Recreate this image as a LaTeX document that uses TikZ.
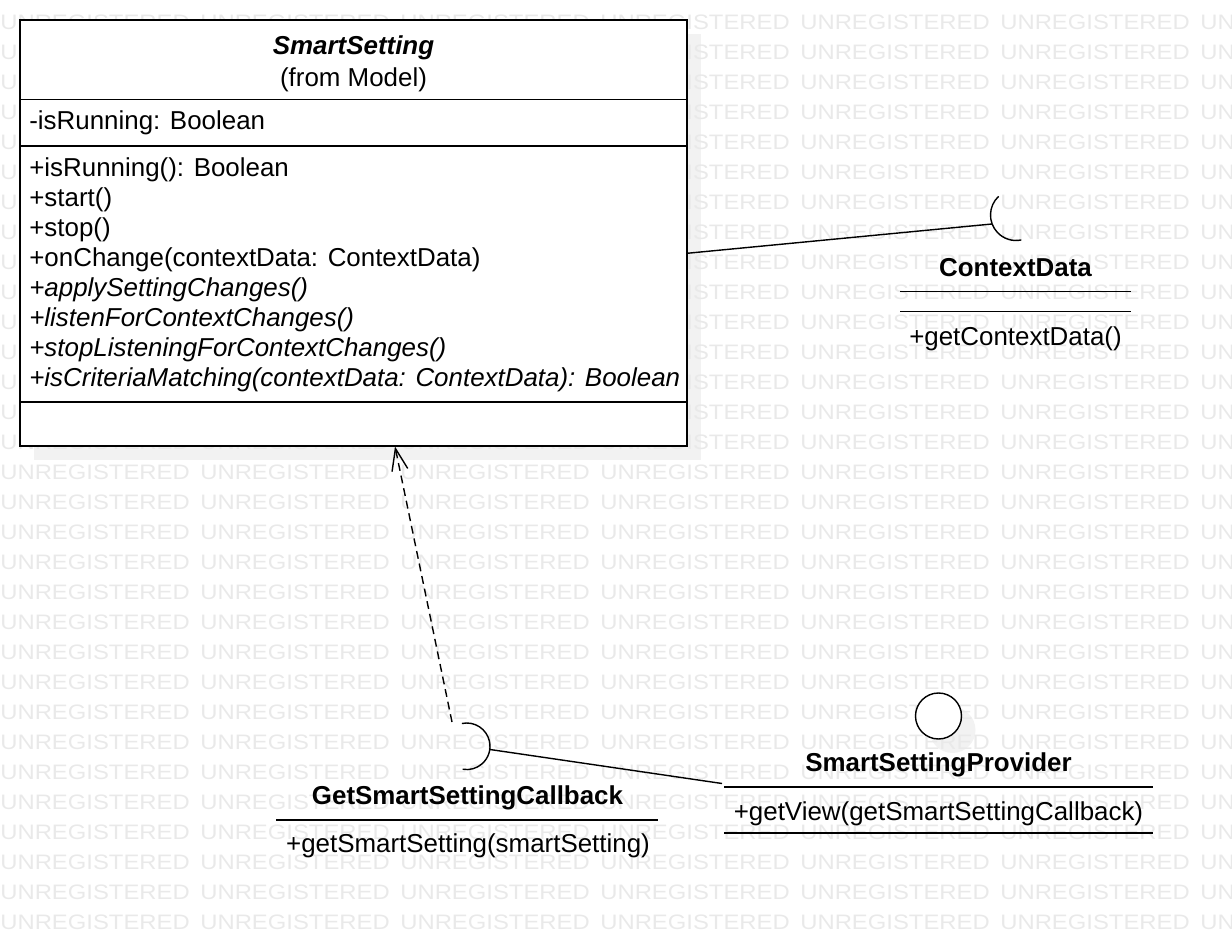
\documentclass[tikz,border=0pt]{standalone}
\usepackage{fontspec}
\setmainfont{Liberation Sans}
\usetikzlibrary{arrows.meta}
\definecolor{wmgray}{RGB}{233,233,233}
\definecolor{shadowgray}{RGB}{242,242,242}

\begin{document}
\begin{tikzpicture}[x=0.02cm, y=-0.02cm,
	every node/.style={font=\fontsize{14.75}{17}\selectfont, inner sep=0pt},
	member/.style={anchor=base west},
	abstractmember/.style={anchor=base west, font=\fontsize{14.75}{17}\selectfont\itshape},
	title/.style={anchor=base, font=\fontsize{14.75}{17}\selectfont\bfseries},
	wmtext/.style={anchor=west, text=wmgray, font=\fontsize{11.9}{14}\selectfont},
	classbox/.style={draw, line width=1pt, fill=white, minimum width=13.34cm, minimum height=8.52cm},
	link/.style={line width=0.8pt},
	rule/.style={line width=0.85pt}]

	\useasboundingbox (0,0) rectangle (1232,946);

	% shadows
	\fill[shadowgray] (34,34) rectangle (701,460);
	\fill[shadowgray] (952.5,730) circle [radius=0.46cm];

	% watermark
	\begin{scope}
		\clip (0,0) rectangle (1232,946);
		\foreach \r in {-1,...,30}
			\foreach \c in {0,...,6}
				\node (wm\r-\c) at (200*\c,22+30*\r) [wmtext]{\scalebox{1.14}[1]{UNREGISTERED}};
	\end{scope}

	% SmartSetting
	\node 	(ss)		at	(353.5,233) 	[classbox]{};
	\draw[line width=1pt]	(20,99.5)	--	(687,99.5);
	\draw[line width=1pt]	(20,146)	--	(687,146);
	\draw[line width=1pt]	(20,402)	--	(687,402);

	\node 	(ssName)	at	(353.5,55) 	[anchor=base, font=\fontsize{14.75}{17}\selectfont\bfseries\itshape]{SmartSetting};
	\node 	(ssFrom)	at	(353.5,86.7) 	[anchor=base]{(from Model)};

	\node 	(ssAttr)	at	(29,130) 	[member]{-isRunning: Boolean};

	\node 	(ssOp1)		at	(29,176.7) 	[member]{+isRunning(): Boolean};
	\node 	(ssOp2)		at	(29,206.7) 	[member]{+start()};
	\node 	(ssOp3)		at	(29,236.7) 	[member]{+stop()};
	\node 	(ssOp4)		at	(29,266.7) 	[member]{+onChange(contextData: ContextData)};
	\node 	(ssOp5)		at	(29,296.7) 	[abstractmember]{+applySettingChanges()};
	\node 	(ssOp6)		at	(29,326.7) 	[abstractmember]{+listenForContextChanges()};
	\node 	(ssOp7)		at	(29,356.7) 	[abstractmember]{+stopListeningForContextChanges()};
	\node 	(ssOp8)		at	(29,386.7) 	[abstractmember]{+isCriteriaMatching(contextData: ContextData): Boolean};

	\coordinate	(ssCD)		at	(687,253.3);
	\coordinate	(ssArr)		at	(395,446.5);

	% ContextData
	\coordinate	(cdC)		at	(1016,215);
	\coordinate	(cdSock)	at	(992,224);
	\draw[link]	(cdC)	++(133:0.51cm)	arc[start angle=133, end angle=282, radius=0.51cm];

	\node 	(cdName)	at	(1015.5,276.7) 	[title]{ContextData};
	\draw[rule]	(900,291.7)	--	(1131,291.7);
	\draw[rule]	(900,311.7)	--	(1131,311.7);
	\node 	(cdOp)		at	(1015.5,345) 	[anchor=base]{+getContextData()};

	% GetSmartSettingCallback
	\coordinate	(cbC)		at	(466.7,746.3);
	\coordinate	(cbSock)	at	(490,749.5);
	\coordinate	(cbTail)	at	(452,722);
	\draw[link]	(cbC)	++(102:0.466cm)	arc[start angle=102, end angle=-100, radius=0.466cm];

	\node 	(cbName)	at	(467.5,804) 	[title]{GetSmartSettingCallback};
	\draw[rule]	(276,820)	--	(658,820);
	\node 	(cbOp)		at	(468,852) 	[anchor=base]{+getSmartSetting(smartSetting)};

	% SmartSettingProvider
	\node 	(ppBall)	at	(938.5,716) 	[circle, draw, link, fill=white, minimum size=0.92cm]{};
	\coordinate	(ppPort)	at	(722,783.5);

	\node 	(ppName)	at	(938.5,771.7) 	[title]{SmartSettingProvider};
	\draw[rule]	(724,787)	--	(1153,787);
	\node 	(ppOp)		at	(938.5,820) 	[anchor=base]{+getView(getSmartSettingCallback)};
	\draw[rule]	(724,833)	--	(1153,833);

	% links
	\draw[link]	(ssCD)	--	(cdSock);
	\draw[link]	(cbSock)	--	(ppPort);
	\draw[link, dash pattern=on 4.5pt off 2.8pt, -{Straight Barb[length=0.44cm, width=0.32cm]}]	(cbTail)	--	(ssArr);

\end{tikzpicture}
\end{document}
